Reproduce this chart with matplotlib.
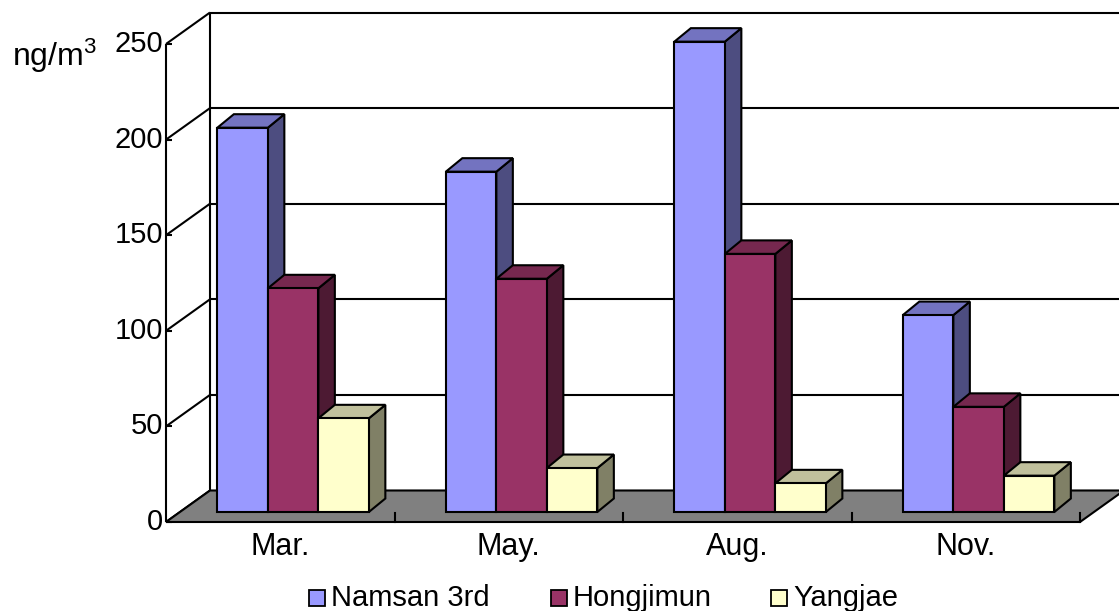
import matplotlib
matplotlib.use("Agg")
import matplotlib.pyplot as plt
from matplotlib.patches import Polygon, Rectangle

plt.rcParams['font.family'] = ['Liberation Sans', 'DejaVu Sans']
plt.rcParams['mathtext.fontset'] = 'custom'
plt.rcParams['mathtext.rm'] = 'Liberation Sans'
plt.rcParams['mathtext.default'] = 'regular'

# ---- data ----
months = ["Mar.", "May.", "Aug.", "Nov."]
namsan = [201, 178, 246, 103]
hongjimun = [117, 122, 135, 55]
yangjae = [49, 23, 15, 19]
series_names = ["Namsan 3rd", "Hongjimun", "Yangjae"]
y_ticks = [0, 50, 100, 150, 200, 250]

# face colours per series: (front, top, side)
palette = [
    ("#9999FF", "#7373C0", "#4D4D80"),
    ("#993366", "#76284F", "#4D1A33"),
    ("#FFFFCC", "#C0C09C", "#808066"),
]

# ---- geometry (category units on x, value units on y) ----
W, H = 1119, 611
PX_CAT = 228.5          # pixels per category
PX_VAL = 1.912          # pixels per value unit
X0, Y0 = 166, 522       # pixel position of the origin corner

WALL_DX = 44 / PX_CAT   # depth of the chart box
WALL_DV = 31.5 / PX_VAL
BAR_D0 = 0.317          # front of the bars as fraction of box depth
BAR_DX = 16.5 / PX_CAT  # bar depth
BAR_DV = 13.5 / PX_VAL
GAP = 37.4 / PX_CAT
BAR_W = 50.5 / PX_CAT
VMAX = 250
n_cat = len(months)

fig = plt.figure(figsize=(W / 100, H / 100), dpi=100)
ax = fig.add_axes([0, 0, 1, 1])
ax.set_xlim(-X0 / PX_CAT, (W - X0) / PX_CAT)
ax.set_ylim((Y0 - H) / PX_VAL, Y0 / PX_VAL)
ax.axis("off")

LW = 1.5
k = dict(color="black", lw=LW, solid_capstyle="butt", zorder=2)

# back wall gridlines and outline
for v in y_ticks:
    ax.plot([WALL_DX, n_cat + WALL_DX + 1], [v + WALL_DV, v + WALL_DV], **k)
    ax.plot([0, WALL_DX], [v, v + WALL_DV], **k)
    ax.plot([0, 6 / PX_CAT], [v, v], **k)
ax.plot([WALL_DX, WALL_DX], [WALL_DV, VMAX + WALL_DV], **k)
ax.plot([0, 0], [0, VMAX], **k)

# floor
floor = Polygon([(0, 0), (n_cat, 0), (n_cat + WALL_DX, WALL_DV), (WALL_DX, WALL_DV)],
                closed=True, facecolor="#808080", edgecolor="black", lw=LW, zorder=3)
ax.add_patch(floor)
for c in range(1, n_cat + 1):
    ax.plot([c, c], [0, 9.5 / PX_VAL], color="black", lw=LW, zorder=4)

# bars
values = [namsan, hongjimun, yangjae]
fx = BAR_D0 * WALL_DX
fv = BAR_D0 * WALL_DV
z = 5
for i in range(n_cat):
    for j, vals in enumerate(values):
        v = vals[i]
        front, top, side = palette[j]
        x1 = i + GAP + j * BAR_W + fx
        x2 = x1 + BAR_W
        yb, yt = fv, fv + v
        side_poly = [(x2, yb), (x2 + BAR_DX, yb + BAR_DV), (x2 + BAR_DX, yt + BAR_DV), (x2, yt)]
        top_poly = [(x1, yt), (x2, yt), (x2 + BAR_DX, yt + BAR_DV), (x1 + BAR_DX, yt + BAR_DV)]
        front_poly = [(x1, yb), (x2, yb), (x2, yt), (x1, yt)]
        for poly, col in ((side_poly, side), (top_poly, top), (front_poly, front)):
            ax.add_patch(Polygon(poly, closed=True, facecolor=col, edgecolor="black",
                                 lw=LW, joinstyle="miter", zorder=z))
            z += 1

# y tick labels
FS = 21
for v in y_ticks:
    ax.text(-3 / PX_CAT, v, str(v), ha="right", va="center", fontsize=FS, zorder=50)
ax.text(-154 / PX_CAT, (Y0 - 56) / PX_VAL, "ng/m$^{3}$", ha="left", va="center",
        fontsize=23, zorder=50)

# category labels
for i, m in enumerate(months):
    ax.text(i + 0.5, (Y0 - 547) / PX_VAL, m, ha="center", va="center", fontsize=FS + 1,
            zorder=50)

# legend
legend_x = [309, 551, 771]
for (xp, name, cols) in zip(legend_x, series_names, palette):
    fig.patches.append(Rectangle((xp / W, 1 - 606 / H), 16 / W, 16 / H,
                                 transform=fig.transFigure, facecolor=cols[0],
                                 edgecolor="black", lw=1.3))
    fig.text((xp + 22) / W, 1 - 598 / H, name, ha="left", va="center", fontsize=FS)

fig.savefig("out.png", dpi=100)
